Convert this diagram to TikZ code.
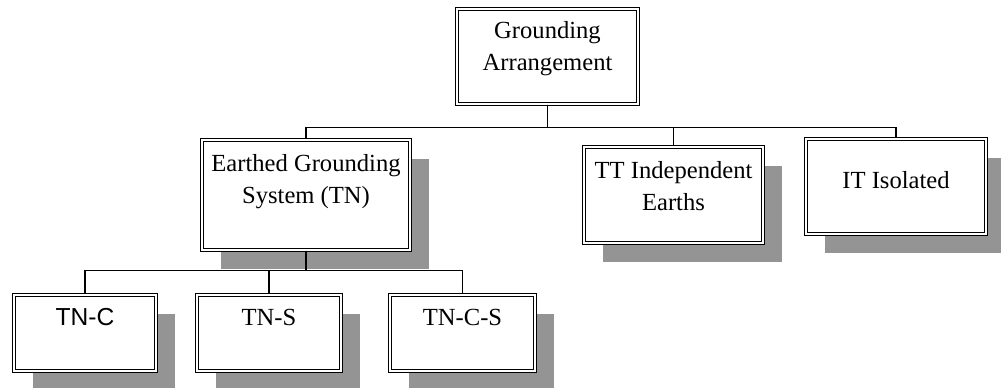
\documentclass[tikz,border=0pt]{standalone}
\usepackage{fontspec}
\setmainfont{Liberation Serif}
\setsansfont{Liberation Sans}
\usepackage{tikz}
\usetikzlibrary{positioning,shadows}

\tikzset{
  grbox/.style={rectangle,draw=black,line width=0.6pt,double,double distance=1.2pt,fill=white,inner sep=0pt},
  shbox/.style={grbox,drop shadow={shadow xshift=0.38cm,shadow yshift=-0.38cm,fill=black!42,opacity=1}},
  grtext/.style={draw=none,anchor=base,align=center,inner sep=0pt,font=\fontsize{14}{18.2}\selectfont},
  conn/.style={-,line width=0.7pt,color=black}
}

\begin{document}
\begin{tikzpicture}[x=0.02cm,y=-0.02cm]
\useasboundingbox (0,0) rectangle (1001,387);
\node[grbox,minimum width=3.62cm,minimum height=1.90cm] (root) at (547.5,56.5) {};
\node[shbox,minimum width=4.16cm,minimum height=2.20cm] (earthed) at (306,195) {};
\node[shbox,minimum width=3.58cm,minimum height=1.92cm] (tt) at (673.5,195) {};
\node[shbox,minimum width=3.60cm,minimum height=1.90cm] (it) at (896,186.5) {};
\node[shbox,minimum width=2.84cm,minimum height=1.52cm] (tnc) at (85,333) {};
\node[shbox,minimum width=2.88cm,minimum height=1.52cm] (tns) at (269,333) {};
\node[shbox,minimum width=2.90cm,minimum height=1.52cm] (tncs) at (462.5,333) {};

\node[grtext] (roottext) at (547.5,70) {Grounding\\Arrangement};
\node[grtext] (earthedtext) at (306,203) {Earthed Grounding\\System (TN)};
\node[grtext] (tttext) at (673.5,210) {TT Independent\\Earths};
\node[grtext] (ittext) at (896,188) {IT Isolated};
\node[grtext,font=\fontsize{14}{18.2}\selectfont\sffamily] (tnctext) at (85,325) {TN-C};
\node[grtext] (tnstext) at (269,325) {TN-S};
\node[grtext] (tncstext) at (462.5,325) {TN-C-S};

\draw[conn] (root.south) -- ++(0,23) -| (earthed.north);
\draw[conn] (root.south) -- ++(0,23) -| (tt.north);
\draw[conn] (root.south) -- ++(0,23) -| (it.north);
\draw[conn] (earthed.south) -- ++(0,20) -| (tnc.north);
\draw[conn] (earthed.south) -- ++(0,20) -| (tns.north);
\draw[conn] (earthed.south) -- ++(0,20) -| (tncs.north);
\end{tikzpicture}
\end{document}
